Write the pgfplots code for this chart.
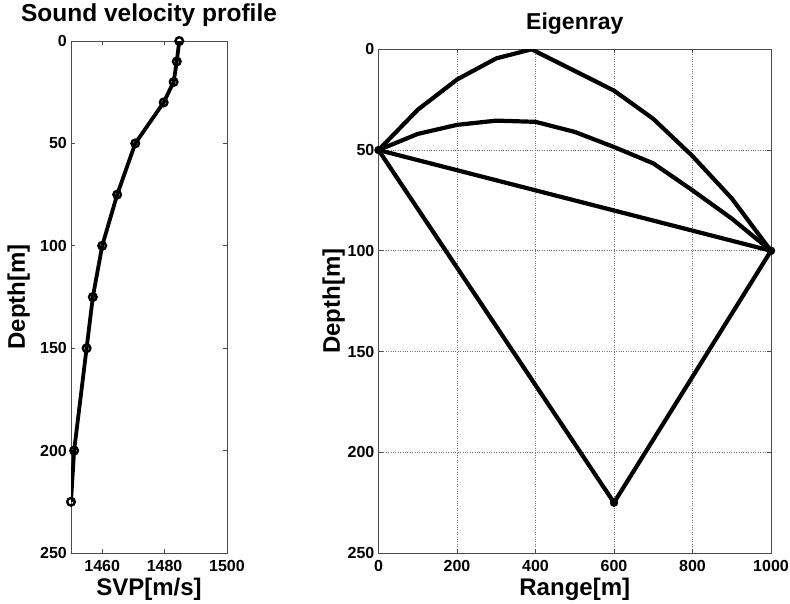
\documentclass[border=0pt]{standalone}
\usepackage{pgfplots}
\pgfplotsset{compat=1.18}
\usepackage{fontspec}
\setmainfont{Liberation Sans}
\begin{document}
\begin{tikzpicture}
\path[use as bounding box] (0pt,0pt) rectangle (790pt,-603pt);
\pgfplotsset{
  mystyle/.style={
    scale only axis,
    anchor=north west,
    y dir=reverse,
    ymin=0, ymax=250, ytick={0,50,...,250},
    tick align=inside,
    major tick length=4pt,
    axis line style={line width=0.8pt, black!70},
    tick style={line width=0.7pt, black!70},
    tick label style={font=\fontsize{16}{17}\selectfont\bfseries},
    /pgf/number format/assume math mode=true,
    /pgf/number format/1000 sep={},
    yticklabel style={inner xsep=0pt, xshift=-4pt},
    xticklabel style={inner ysep=0pt, yshift=-7pt},
    label style={font=\fontsize{24}{26}\selectfont\bfseries},
    xlabel style={at={(axis description cs:0.5,0)}, anchor=north, inner sep=0pt, yshift=-25pt},
    title style={font=\fontsize{23}{26}\selectfont\bfseries, at={(axis description cs:0.5,1)}, anchor=base, inner sep=0pt, yshift=14pt},
  }
}
\begin{axis}[mystyle,
  at={(71pt,-41pt)}, width=156pt, height=512pt,
  xmin=1450, xmax=1500, xtick={1460,1480,1500},
  title={Sound velocity profile},
  title style={font=\fontsize{24.5}{26}\selectfont\bfseries},
  xlabel={SVP[m/s]}, ylabel={Depth[m]},
  ylabel style={at={(axis description cs:0,0.5)}, anchor=south, inner sep=0pt, yshift=41pt},
]
\addplot[black, line width=3.8pt, mark=o, mark size=3.8pt, mark options={line width=2.4pt, solid}] coordinates {
(1484.7,0) (1483.9,10) (1482.9,20) (1479.7,30) (1470.6,50) (1464.8,75)
(1460,100) (1457,125) (1455,150) (1451,200) (1450,225)
};
\end{axis}
\begin{axis}[mystyle,
  at={(378.5pt,-49.3pt)}, width=392.5pt, height=503.7pt,
  xmin=0, xmax=1000, xtick={0,200,...,1000},
  grid=major, grid style={dotted, line width=0.7pt, black!55},
  title={Eigenray},
  xlabel={Range[m]}, ylabel={Depth[m]},
  ylabel style={at={(axis description cs:0,0.5)}, anchor=south, inner sep=0pt, yshift=33.5pt},
]
\addplot[black, line width=4.2pt] coordinates {
(0,50) (100,30) (200,15) (300,4.5) (390,0) (600,20.5) (700,34.5) (800,53) (900,74) (1000,100)
};
\addplot[black, line width=4.2pt] coordinates {
(0,50) (100,42) (200,37.5) (300,35.4) (400,36) (500,41) (600,48.5) (700,56.6) (800,70) (900,84) (1000,100)
};
\addplot[black, line width=4.2pt] coordinates {(0,50) (1000,100)};
\addplot[black, line width=4.2pt] coordinates {(0,50) (600,225) (1000,100)};
\addplot[black, only marks, mark=*, mark size=4pt] coordinates {(0,50) (1000,100) (600,225)};
\end{axis}
\end{tikzpicture}
\end{document}
